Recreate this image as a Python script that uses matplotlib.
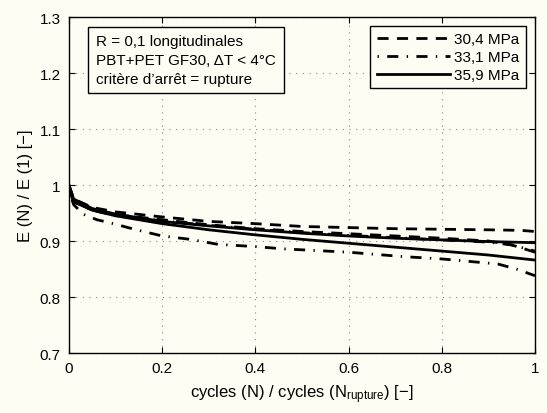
import numpy as np
import matplotlib
matplotlib.use('Agg')
import matplotlib.pyplot as plt

plt.rcParams['font.family'] = ['Liberation Sans', 'DejaVu Sans']
plt.rcParams['mathtext.fontset'] = 'custom'
plt.rcParams['mathtext.rm'] = 'Liberation Sans'
plt.rcParams['mathtext.default'] = 'regular'

# 30,4 MPa (two specimens)
x_304a = [0, 0.01, 0.05, 0.1, 0.2, 0.3, 0.4, 0.5, 0.6, 0.7, 0.8, 0.9, 0.97, 1.0]
y_304a = [1.0, 0.975, 0.96, 0.952, 0.943, 0.935, 0.931, 0.926, 0.924, 0.922, 0.921, 0.92, 0.919, 0.917]
x_304b = [0, 0.01, 0.05, 0.1, 0.2, 0.3, 0.4, 0.5, 0.6, 0.7, 0.8, 0.9, 0.95, 1.0]
y_304b = [0.99, 0.972, 0.955, 0.947, 0.938, 0.929, 0.922, 0.917, 0.913, 0.909, 0.905, 0.9, 0.893, 0.88]
# 33,1 MPa
x_331a = [0, 0.01, 0.03, 0.06, 0.1, 0.14, 0.2, 0.26, 0.32, 0.4, 0.46, 0.6, 0.72, 0.8, 0.92, 0.96, 1.0]
y_331a = [0.99, 0.965, 0.948, 0.938, 0.93, 0.921, 0.909, 0.903, 0.894, 0.89, 0.886, 0.88, 0.872, 0.868, 0.859, 0.85, 0.838]
x_331b = [0, 0.01, 0.05, 0.1, 0.2, 0.3, 0.4, 0.5, 0.6, 0.7, 0.8, 0.9, 0.95, 1.0]
y_331b = [0.995, 0.97, 0.955, 0.946, 0.936, 0.928, 0.921, 0.915, 0.91, 0.906, 0.902, 0.898, 0.893, 0.882]
# 35,9 MPa
x_359a = [0, 0.01, 0.05, 0.1, 0.2, 0.3, 0.4, 0.5, 0.6, 0.7, 0.8, 0.9, 1.0]
y_359a = [1.0, 0.975, 0.958, 0.948, 0.935, 0.927, 0.92, 0.914, 0.909, 0.905, 0.902, 0.899, 0.897]
x_359b = [0, 0.01, 0.05, 0.1, 0.2, 0.3, 0.4, 0.5, 0.6, 0.7, 0.8, 0.9, 1.0]
y_359b = [0.995, 0.97, 0.955, 0.945, 0.931, 0.92, 0.911, 0.903, 0.896, 0.889, 0.882, 0.875, 0.866]

labels = ['30,4 MPa', '33,1 MPa', '35,9 MPa']
bg = '#fffdf3'

fig = plt.figure(figsize=(5.47, 4.14), dpi=100, facecolor=bg)
ax = fig.add_axes([0.1261, 0.1449, 0.852, 0.8116], facecolor=bg)

lw = 2.0
dash = (0, (4, 3))
dashdot = (0, (0.5, 3, 4, 3))
ax.plot(x_304a, y_304a, color='k', lw=lw, linestyle=dash, label=labels[0])
ax.plot(x_304b, y_304b, color='k', lw=lw, linestyle=dash)
ax.plot(x_331a, y_331a, color='k', lw=lw, linestyle=dashdot, label=labels[1])
ax.plot(x_331b, y_331b, color='k', lw=lw, linestyle=dashdot)
ax.plot(x_359a, y_359a, color='k', lw=lw, linestyle='-', label=labels[2])
ax.plot(x_359b, y_359b, color='k', lw=lw, linestyle='-')

ax.set_xlim(0, 1)
ax.set_ylim(0.7, 1.3)
ax.set_xticks([0, 0.2, 0.4, 0.6, 0.8, 1])
ax.set_xticklabels(['0', '0.2', '0.4', '0.6', '0.8', '1'])
ax.set_yticks(np.arange(0.7, 1.31, 0.1))
ax.set_yticklabels(['0.7', '0.8', '0.9', '1', '1.1', '1.2', '1.3'])
ax.tick_params(direction='in', top=True, right=True, length=4, labelsize=11, pad=6)
ax.grid(True, linestyle=(0, (1, 5)), color='#888888', lw=0.8)
for s in ax.spines.values():
    s.set_linewidth(1.0)

ax.set_xlabel('cycles (N) / cycles (N$_{rupture}$) [\u2212]', fontsize=12, labelpad=5)
ax.set_ylabel('E (N) / E (1) [\u2212]', fontsize=12, labelpad=5)

ax.text(0.058, 0.948,
        'R = 0,1 longitudinales\nPBT+PET GF30, \u0394T < 4\u00b0C\ncrit\u00e8re d\u2019arr\u00eat = rupture',
        transform=ax.transAxes, va='top', ha='left', fontsize=11, linespacing=1.42,
        bbox=dict(boxstyle='square,pad=0.5', facecolor=bg, edgecolor='k', lw=1.0))

leg = ax.legend(loc='upper right', fontsize=11, handlelength=4.8, fancybox=False,
                edgecolor='k', facecolor=bg, framealpha=1, borderaxespad=0.6,
                labelspacing=0.25, handletextpad=0.3, borderpad=0.4)
leg.get_frame().set_linewidth(1.0)

fig.savefig('out.png', dpi=100, facecolor=bg)
